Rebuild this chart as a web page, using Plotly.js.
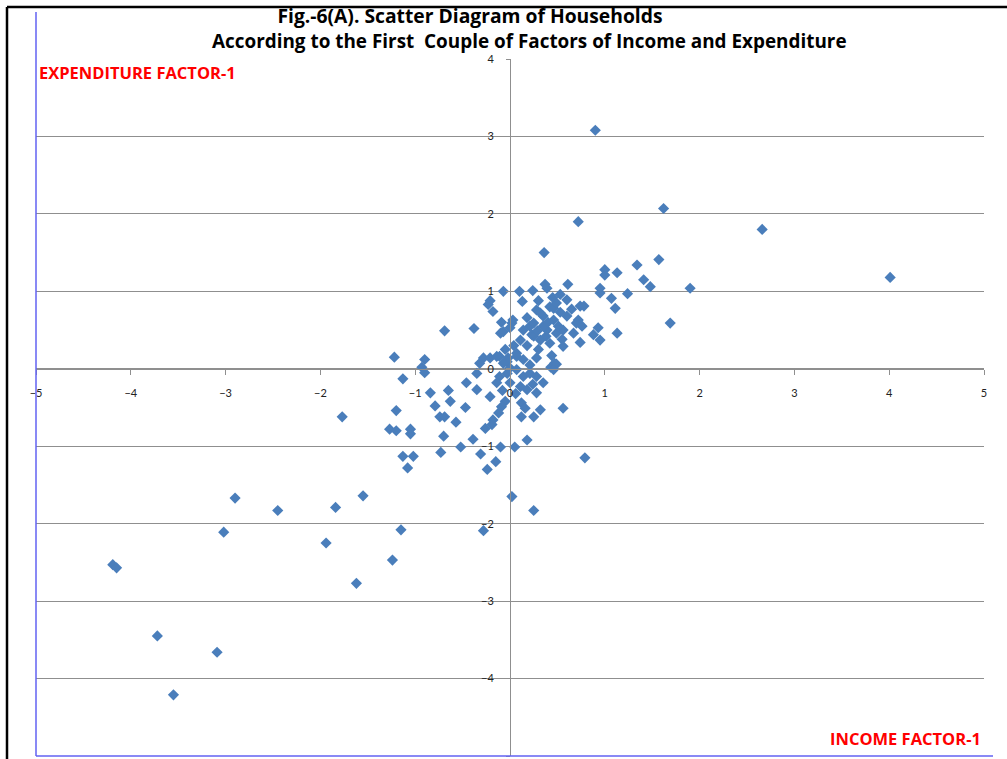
<!DOCTYPE html>
<html>
<head>
<meta charset="utf-8">
<script src="https://cdn.plot.ly/plotly-3.0.1.min.js"></script>
<style>
html,body{margin:0;padding:0;background:#ffffff;}
#chart{width:1007px;height:759px;}
</style>
</head>
<body>
<div id="chart"></div>
<script>
// Income factor-1 (x) and expenditure factor-1 (y) scores of households
const incomeFactor1 = [
  0.90, 1.62, 0.72, 2.66, 4.01, 1.57, 1.34, 1.00, 1.00, 1.13,
  0.61, 1.41, 1.48, 1.90, 0.95, 0.95, 1.24, 1.07, 1.11, 1.69,
  0.74, 0.78, 0.93, 0.88, 0.95, 1.13, 0.74, 0.56, 0.60, 0.53,
  0.36, 0.37, 0.39, -0.07, 0.10, 0.24, 0.13, -0.21, -0.23, -0.18,
  -0.69, -0.38, -0.09, -0.10, 0.02, 0.00, -1.22, -0.90, -0.93, -0.90,
  -0.28, -0.32, -0.21, -0.11, -0.02, 0.28, 0.44, 0.47, 0.43, 0.49,
  0.28, 0.35, 0.42, 0.21, 0.14, 0.11, 0.23, 0.32, 0.39, 0.49,
  0.46, 0.56, 0.60, 0.72, 0.76, 0.67, 0.70, 0.32, 0.46, 0.49,
  0.25, 0.03, -0.07, 0.25, 0.35, 0.42, 0.51, -0.03, 0.07, 0.14,
  0.21, 0.00, 0.46, -0.14, -0.07, 0.07, 0.07, 0.14, 0.21, 0.28,
  -0.03, -0.11, -0.14, 0.00, 0.11, 0.18, 0.28, 0.35, -0.21, -0.05,
  -0.09, -0.12, -0.18, -0.19, -0.26, 0.12, 0.16, 0.25, 0.32, 0.12,
  0.56, 0.18, 0.05, -0.10, -0.15, -0.24, -0.31, -0.39, -0.52, -0.73,
  -0.70, -0.57, -0.74, -0.69, -0.47, -0.79, -0.63, -0.65, -0.84, -0.46,
  -0.35, -0.35, -1.13, -1.20, -1.27, -1.20, -1.05, -1.05, -1.13, -1.02,
  -1.08, 0.79, 0.02, 0.25, -0.28, -1.77, -2.90, -2.45, -1.84, -1.55,
  -3.02, -1.15, -1.94, -1.24, -1.62, -4.19, -4.15, -3.72, -3.09, -3.55,
  0.04, 0.18, 0.30, -0.05, 0.38, 0.55, 0.30, 0.45, 0.06, 0.24,
  -0.08, 0.40, 0.53, 0.65, 0.29, 0.18
];
const expenditureFactor1 = [
  3.08, 2.07, 1.90, 1.80, 1.18, 1.41, 1.34, 1.28, 1.21, 1.24,
  1.09, 1.15, 1.06, 1.04, 1.04, 0.98, 0.97, 0.91, 0.78, 0.59,
  0.81, 0.81, 0.53, 0.44, 0.37, 0.46, 0.34, 0.29, 0.89, 0.96,
  1.50, 1.09, 1.04, 1.00, 1.00, 1.01, 0.87, 0.88, 0.83, 0.74,
  0.49, 0.52, 0.60, 0.46, 0.59, 0.53, 0.15, 0.12, 0.02, -0.05,
  0.14, 0.07, 0.14, 0.16, 0.14, 0.14, 0.17, 0.07, 0.02, 0.06,
  0.76, 0.68, 0.80, 0.55, 0.50, 0.37, 0.44, 0.37, 0.50, 0.46,
  0.63, 0.50, 0.68, 0.63, 0.55, 0.46, 0.59, 0.72, 0.78, 0.85,
  0.59, 0.63, 0.48, 0.42, 0.55, 0.33, 0.55, 0.09, 0.16, 0.12,
  0.05, 0.01, -0.01, 0.16, 0.07, 0.20, -0.01, -0.10, -0.06, -0.10,
  -0.06, -0.10, -0.18, -0.18, -0.23, -0.27, -0.31, -0.18, -0.36, -0.42,
  -0.49, -0.57, -0.66, -0.72, -0.77, -0.44, -0.51, -0.62, -0.53, -0.62,
  -0.51, -0.92, -1.01, -1.01, -1.20, -1.30, -1.10, -0.91, -1.01, -1.08,
  -0.87, -0.69, -0.62, -0.62, -0.50, -0.48, -0.42, -0.28, -0.31, -0.18,
  -0.06, -0.27, -0.13, -0.54, -0.78, -0.80, -0.78, -0.84, -1.13, -1.13,
  -1.28, -1.15, -1.65, -1.83, -2.09, -0.62, -1.67, -1.83, -1.79, -1.64,
  -2.11, -2.08, -2.25, -2.47, -2.77, -2.53, -2.57, -3.45, -3.66, -4.21,
  0.30, 0.30, 0.25, 0.25, 0.42, 0.38, 0.88, 0.92, -0.32, -0.20,
  -0.28, 0.60, 0.73, 0.77, 0.49, 0.66
];
const xTickVals = [-5, -4, -3, -2, -1, 0, 1, 2, 3, 4, 5];
const yTickVals = [-5, -4, -3, -2, -1, 0, 1, 2, 3, 4];
const titleLine1 = 'Fig.-6(A). Scatter Diagram of Households';
const titleLine2 = 'According to the First&nbsp; Couple of Factors of Income and Expenditure';
const xAxisLabel = 'INCOME FACTOR-1';
const yAxisLabel = 'EXPENDITURE FACTOR-1';

const markerBlue = '#4A7EBB';
const gridGray = '#8f8f8f';
const borderBlue = '#6262f2';
const labelRed = '#ff0000';
const tickFam = 'Lato, "Open Sans", sans-serif';
const titleFam = '"Open Sans", Lato, sans-serif';

const trace = {
  type: 'scatter',
  mode: 'markers',
  x: incomeFactor1,
  y: expenditureFactor1,
  marker: {symbol: 'diamond', size: 8.6, color: markerBlue, line: {width: 0}},
  hoverinfo: 'none',
  showlegend: false
};

const layout = {
  width: 1007,
  height: 759,
  paper_bgcolor: '#ffffff',
  plot_bgcolor: '#ffffff',
  margin: {l: 36, r: 23, t: 59, b: 3, pad: 0},
  showlegend: false,
  title: {
    text: titleLine1,
    xref: 'container', yref: 'container',
    x: 470 / 1007, xanchor: 'center',
    y: 1 - 16 / 759, yanchor: 'middle',
    font: {family: titleFam, size: 19.3, color: '#000000', weight: 'bold'}
  },
  xaxis: {
    range: [-5, 5], autorange: false, fixedrange: true,
    showgrid: false, zeroline: false,
    showline: true, linecolor: gridGray, linewidth: 1,
    anchor: 'free', position: 5 / 9,
    ticks: 'outside', ticklen: 5, tickcolor: gridGray, tickwidth: 1,
    tickmode: 'array', tickvals: xTickVals,
    tickfont: {family: tickFam, size: 11, color: '#222222'},
    ticklabelstandoff: 9,
    automargin: false
  },
  yaxis: {
    range: [-5, 4], autorange: false, fixedrange: true,
    showgrid: true, gridcolor: gridGray, gridwidth: 1,
    zeroline: false,
    showline: true, linecolor: gridGray, linewidth: 1,
    anchor: 'free', position: 0.5,
    ticks: 'outside', ticklen: 4, tickcolor: gridGray, tickwidth: 1,
    tickmode: 'array', tickvals: yTickVals,
    tickfont: {family: tickFam, size: 11, color: '#222222'},
    ticklabelstandoff: 10,
    automargin: false
  },
  annotations: [
    {text: titleLine2, xref: 'paper', yref: 'paper',
     x: (529 - 36) / 948, xanchor: 'center',
     y: (756 - 41.5) / 697, yanchor: 'middle', showarrow: false,
     font: {family: titleFam, size: 18.9, color: '#000000', weight: 'bold'}},
    {text: yAxisLabel, xref: 'paper', yref: 'paper',
     x: 0.001, xanchor: 'left',
     y: (756 - 72) / 697, yanchor: 'middle', showarrow: false,
     font: {family: titleFam, size: 16.5, color: labelRed, weight: 'bold'}},
    {text: xAxisLabel, xref: 'paper', yref: 'paper',
     x: (983 - 36) / 948, xanchor: 'right',
     y: (756 - 738) / 697, yanchor: 'middle', showarrow: false,
     font: {family: titleFam, size: 16.5, color: labelRed, weight: 'bold'}}
  ],
  shapes: [
    // blue plot-area border (left and bottom)
    {type: 'line', xref: 'paper', yref: 'paper', x0: 0, x1: 0, y0: 0, y1: (756 - 12) / 697,
     line: {color: borderBlue, width: 1.5}},
    {type: 'line', xref: 'paper', yref: 'paper', x0: 0, x1: (993 - 36) / 948, y0: 0, y1: 0,
     line: {color: borderBlue, width: 1.5}},
    // black outer frame (top and left)
    {type: 'line', xref: 'paper', yref: 'paper', x0: (7 - 36) / 948, x1: (1010 - 36) / 948,
     y0: (756 - 7) / 697, y1: (756 - 7) / 697, line: {color: '#000000', width: 2.5}},
    {type: 'line', xref: 'paper', yref: 'paper', x0: (7 - 36) / 948, x1: (7 - 36) / 948,
     y0: (756 - 7) / 697, y1: (756 - 762) / 697, line: {color: '#000000', width: 2.5}}
  ]
};

Plotly.newPlot('chart', [trace], layout, {staticPlot: true, displayModeBar: false});
</script>
</body>
</html>
